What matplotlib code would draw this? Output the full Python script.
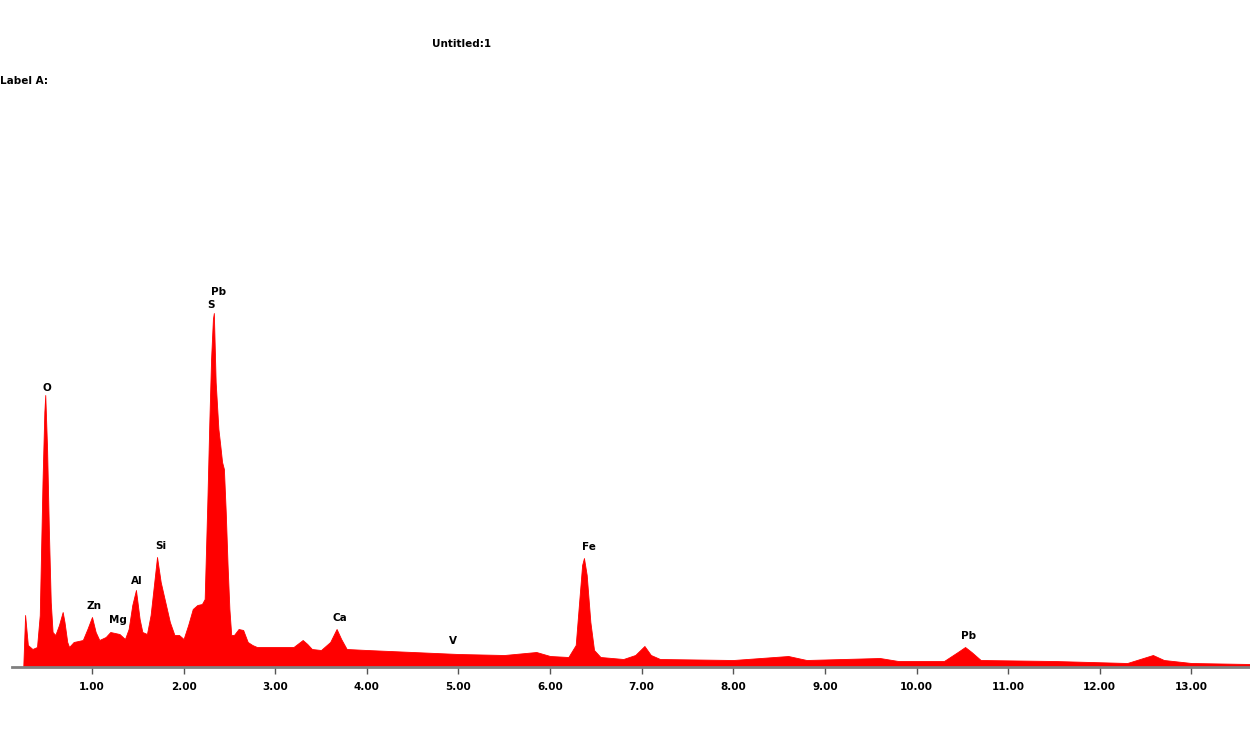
import matplotlib
matplotlib.use("Agg")
import matplotlib.pyplot as plt

# EDS spectrum (energy keV, counts in arbitrary units)
energy = [0.25, 0.27, 0.30, 0.35, 0.40, 0.43, 0.46, 0.48, 0.49, 0.51, 0.53, 0.55, 0.57, 0.60,
          0.64, 0.68, 0.70, 0.73, 0.75, 0.80, 0.90, 0.95, 1.00, 1.04, 1.08, 1.15, 1.20, 1.30,
          1.36, 1.40, 1.44, 1.48, 1.52, 1.55, 1.60, 1.64, 1.68, 1.71, 1.75, 1.80, 1.85, 1.90,
          1.95, 2.00, 2.05, 2.10, 2.15, 2.20, 2.23, 2.26, 2.28, 2.30, 2.32, 2.33, 2.35, 2.38,
          2.40, 2.42, 2.44, 2.46, 2.48, 2.50, 2.52, 2.55, 2.60, 2.65, 2.70, 2.75, 2.80, 3.00,
          3.20, 3.30, 3.35, 3.40, 3.50, 3.60, 3.67, 3.72, 3.78, 4.00, 4.50, 5.00, 5.50, 5.85,
          6.00, 6.20, 6.28, 6.32, 6.35, 6.37, 6.40, 6.44, 6.48, 6.55, 6.80, 6.93, 7.03, 7.10,
          7.20, 8.00, 8.60, 8.80, 9.60, 9.80, 10.30, 10.45, 10.53, 10.60, 10.70, 11.50, 12.30,
          12.58, 12.70, 13.00, 13.64]
counts = [0, 52, 22, 18, 20, 52, 185, 255, 272, 218, 135, 65, 35, 32,
          42, 55, 45, 25, 20, 25, 27, 38, 50, 35, 27, 30, 35, 33,
          28, 38, 62, 77, 48, 35, 33, 52, 85, 110, 85, 65, 45, 32,
          32, 28, 42, 58, 62, 63, 68, 168, 242, 308, 348, 354, 285, 238,
          222, 205, 198, 155, 102, 58, 32, 32, 38, 37, 25, 22, 20, 20,
          20, 27, 23, 18, 17, 25, 38, 28, 18, 17, 15, 13, 12, 15,
          11, 10, 22, 68, 102, 109, 92, 45, 17, 10, 8, 12, 21, 12,
          8, 7, 11, 7, 9, 6, 6, 15, 20, 15, 7, 6, 4,
          12, 7, 4, 3]

peak_names = ["O", "Zn", "Mg", "Al", "Si", "S", "Pb", "Ca", "V", "Fe", "Pb"]
peak_energy = [0.51, 1.02, 1.28, 1.49, 1.75, 2.30, 2.38, 3.71, 4.94, 6.42, 10.57]
peak_label_y = [279, 61, 47, 86, 121, 362, 375, 49, 26, 120, 31]

fig = plt.figure(figsize=(12.5, 7.42), dpi=100)
ax = fig.add_axes([12 / 1250, 75 / 742, 1 - 12 / 1250, 567 / 742])
ax.fill_between(energy, counts, 0, color="#ff0000", linewidth=0.6, edgecolor="#ff0000")
ax.set_xlim(0.127, 13.64)
ax.set_ylim(0, 567)

for s in ["top", "right", "left"]:
    ax.spines[s].set_visible(False)
ax.spines["bottom"].set_color("#808080")
ax.spines["bottom"].set_linewidth(2)
ax.set_yticks([])
ax.set_xticks(range(1, 14))
ax.set_xticklabels([f"{i}.00" for i in range(1, 14)], fontsize=7.5, fontweight="bold")
ax.tick_params(axis="x", length=5, width=1, color="#555555", pad=6)

for name, e, y in zip(peak_names, peak_energy, peak_label_y):
    ax.text(e, y, name, ha="center", va="center", fontsize=7.5, fontweight="bold")

fig.text(462 / 1250, 1 - 44 / 742, "Untitled:1", ha="center", va="center", fontsize=7.5, fontweight="bold")
fig.text(0, 1 - 81 / 742, "Label A:", ha="left", va="center", fontsize=7.5, fontweight="bold")

fig.savefig("out.png", dpi=100)
